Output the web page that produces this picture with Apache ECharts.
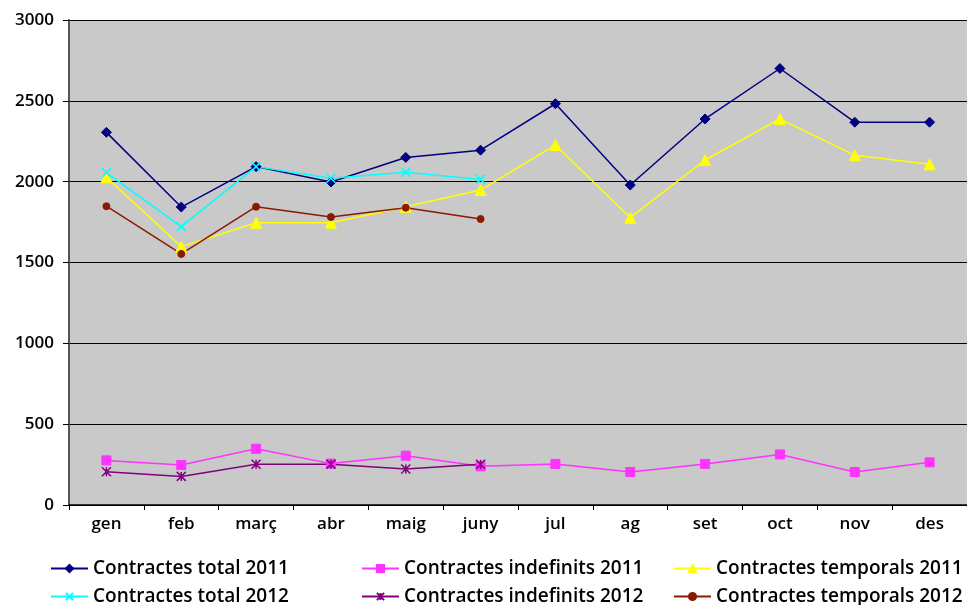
<!DOCTYPE html>
<html>
<head>
<meta charset="utf-8">
<script src="https://cdn.jsdelivr.net/npm/echarts@6/dist/echarts.min.js"></script>
<style>
html,body{margin:0;padding:0;background:#fff;}
#chart{width:967px;height:605px;}
</style>
</head>
<body>
<div id="chart"></div>
<script>
const categories = ['gen','feb','març','abr','maig','juny','jul','ag','set','oct','nov','des'];
const yTicks = [0, 500, 1000, 1500, 2000, 2500, 3000];
const total2011 = [2305, 1843, 2093, 1998, 2150, 2195, 2482, 1979, 2388, 2700, 2368, 2368];
const indef2011 = [276, 247, 348, 256, 305, 239, 254, 204, 254, 313, 204, 264];
const temp2011  = [2027, 1598, 1746, 1746, 1845, 1948, 2227, 1777, 2134, 2388, 2163, 2107];
const total2012 = [2056, 1722, 2093, 2021, 2058, 2014];
const indef2012 = [206, 177, 252, 252, 223, 252];
const temp2012  = [1848, 1553, 1845, 1781, 1839, 1769];
const names = ['Contractes total 2011','Contractes indefinits 2011','Contractes temporals 2011',
               'Contractes total 2012','Contractes indefinits 2012','Contractes temporals 2012'];

const FONT = '"Open Sans"';
const X_PATH = 'path://M0,0L10,10M10,0L0,10';
const STAR_PATH = 'path://M0,0L10,10M10,0L0,10M5,0L5,10';

function mk(name, data, color, symbol, size, extra) {
  return Object.assign({
    name: name, type: 'line', data: data,
    symbol: symbol, symbolSize: size,
    lineStyle: {color: color, width: 1.5},
    itemStyle: {color: color, borderColor: color, borderWidth: 1},
    emphasis: {disabled: true},
    animation: false
  }, extra || {});
}

const chart = echarts.init(document.getElementById('chart'), null, {renderer: 'canvas'});
const legendText = {fontFamily: FONT, fontSize: 19, fontWeight: 600, color: '#000', padding: [0, 0, 0, 0]};
function legend(left, top, name) {
  return {
    left: left, top: top, orient: 'horizontal', itemGap: 0, itemWidth: 37, itemHeight: 9,
    padding: 0, textStyle: legendText, data: [name], selectedMode: false
  };
}
chart.setOption({
  backgroundColor: '#ffffff',
  animation: false,
  grid: {left: 69, top: 20, width: 900, height: 485, containLabel: false,
         show: true, backgroundColor: '#c9c9c9', borderWidth: 0},
  legend: [
    legend(50, 559, names[0]),
    legend(361, 559, names[1]),
    legend(673, 559, names[2]),
    legend(50, 587, names[3]),
    legend(361, 587, names[4]),
    legend(673, 587, names[5])
  ],
  xAxis: {
    type: 'category', data: categories, boundaryGap: true,
    axisLine: {lineStyle: {color: '#000', width: 1.5}},
    axisTick: {show: true, length: 5, lineStyle: {color: '#000'}},
    axisLabel: {fontFamily: FONT, fontSize: 17, fontWeight: 600, color: '#000', margin: 11}
  },
  yAxis: {
    type: 'value', min: yTicks[0], max: yTicks[yTicks.length - 1], interval: 500,
    axisLine: {show: true, lineStyle: {color: '#555', width: 2}},
    axisTick: {show: true, length: 6, lineStyle: {color: '#000'}},
    splitLine: {show: true, lineStyle: {color: '#000', width: 1}},
    axisLabel: {fontFamily: FONT, fontSize: 17, fontWeight: 600, color: '#000', margin: 15,
                formatter: function (v) { return String(v); }}
  },
  series: [
    mk(names[0], total2011, '#000080', 'diamond', 10),
    mk(names[1], indef2011, '#ff33ff', 'rect', 9),
    mk(names[2], temp2011, '#ffff00', 'triangle', 11),
    mk(names[3], total2012, '#00ffff', X_PATH, 9, {itemStyle: {color: 'none', borderColor: '#00ffff', borderWidth: 1.5}}),
    mk(names[4], indef2012, '#800080', STAR_PATH, 9, {itemStyle: {color: 'none', borderColor: '#800080', borderWidth: 1.5}}),
    mk(names[5], temp2012, '#8b1a00', 'circle', 7)
  ]
});
</script>
</body>
</html>
